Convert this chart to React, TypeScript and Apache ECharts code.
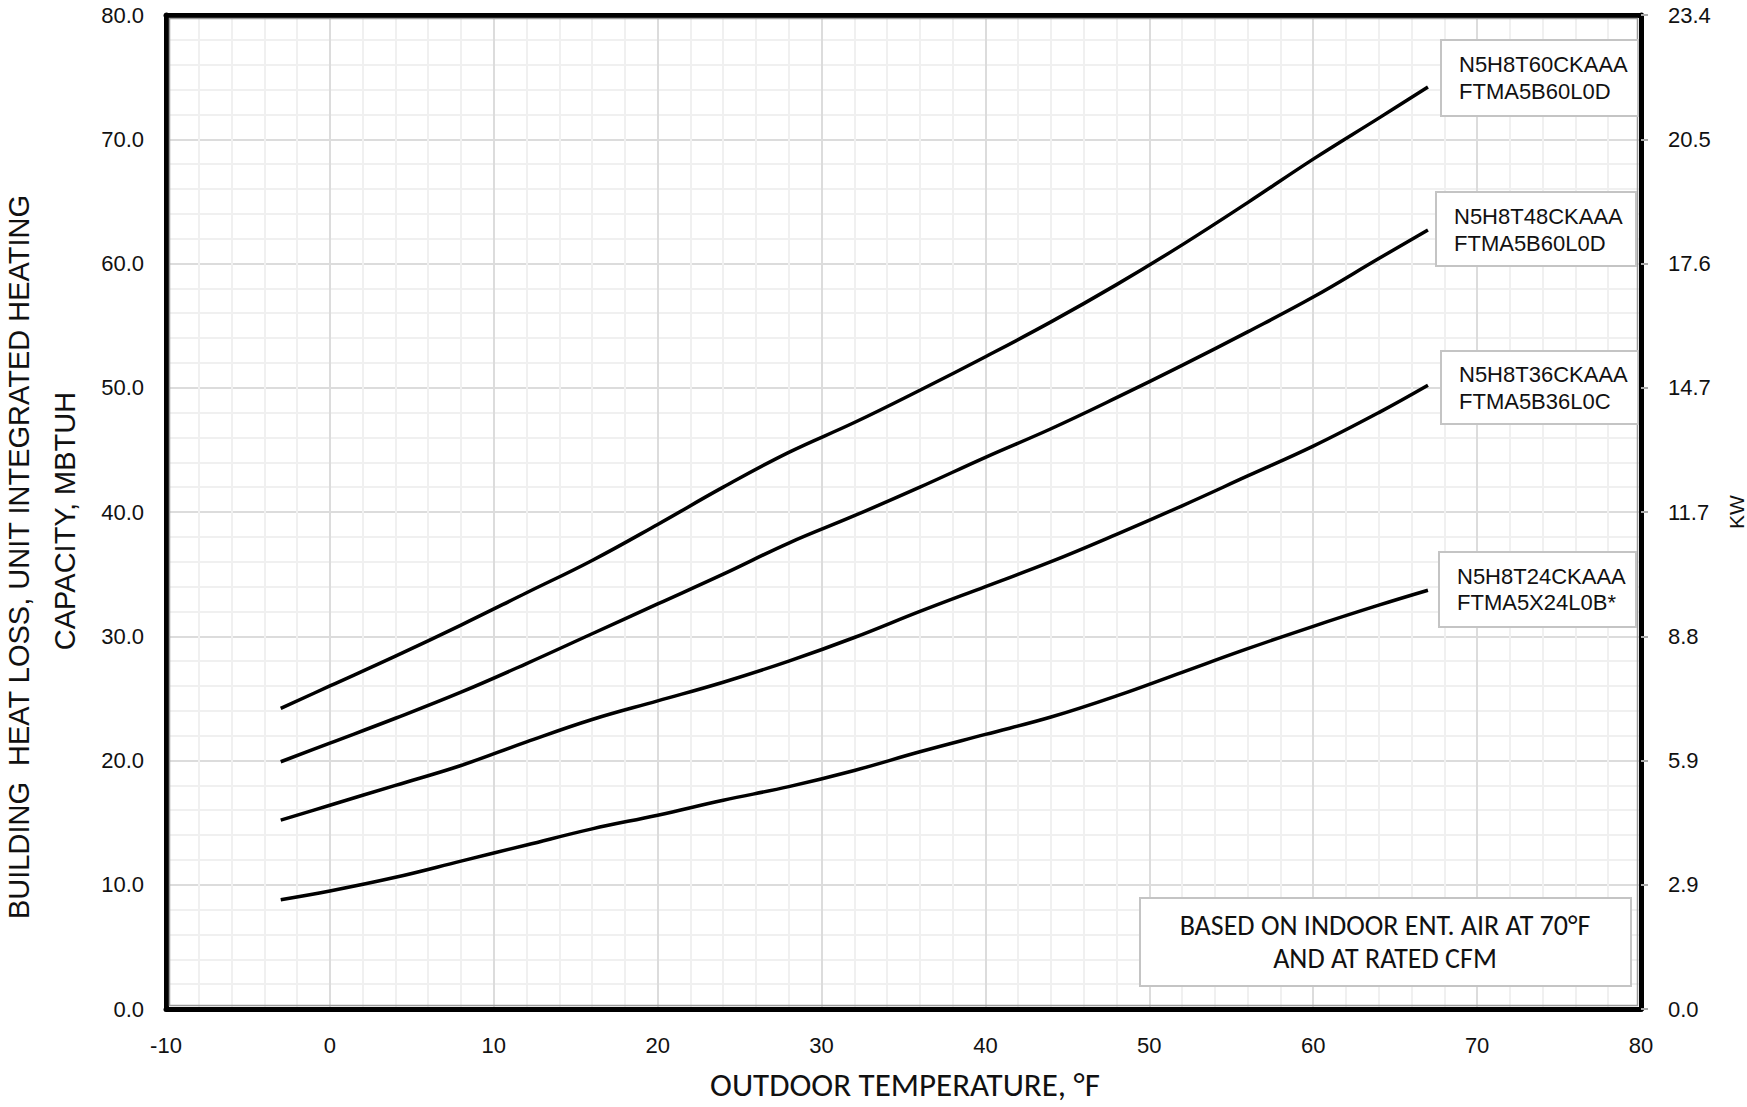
import React, { useEffect, useRef } from "react";
import * as echarts from "echarts";

// Outdoor temperature, °F
const temps = [-3, 0, 4, 8, 12, 16, 20, 24, 28, 32, 36, 40, 44, 48, 52, 56, 60, 64, 67];

// Capacity, MBTUH
const cap60 = [24.2, 26.0, 28.4, 30.9, 33.5, 36.1, 39.0, 42.0, 44.8, 47.2, 49.8, 52.5, 55.3, 58.3, 61.5, 64.9, 68.4, 71.7, 74.2];
const cap48 = [19.9, 21.4, 23.4, 25.5, 27.8, 30.2, 32.6, 35.0, 37.5, 39.7, 42.0, 44.4, 46.7, 49.2, 51.8, 54.5, 57.3, 60.4, 62.7];
const cap36 = [15.2, 16.4, 18.0, 19.6, 21.5, 23.3, 24.8, 26.3, 28.0, 29.9, 32.0, 34.0, 36.0, 38.2, 40.5, 42.9, 45.3, 48.0, 50.2];
const cap24 = [8.8, 9.5, 10.6, 11.9, 13.2, 14.5, 15.6, 16.8, 17.9, 19.2, 20.7, 22.1, 23.5, 25.2, 27.1, 29.0, 30.8, 32.5, 33.7];

const seriesNames = ["N5H8T60CKAAA", "N5H8T48CKAAA", "N5H8T36CKAAA", "N5H8T24CKAAA"];
const seriesData = [cap60, cap48, cap36, cap24];

const labelLine1 = ["N5H8T60CKAAA", "N5H8T48CKAAA", "N5H8T36CKAAA", "N5H8T24CKAAA"];
const labelLine2 = ["FTMA5B60L0D", "FTMA5B60L0D", "FTMA5B36L0C", "FTMA5X24L0B*"];

const noteLines = ["BASED ON INDOOR ENT. AIR AT 70°F", "AND AT RATED CFM"];
const xTitle = "OUTDOOR TEMPERATURE, °F";
const yTitle1 = "BUILDING  HEAT LOSS, UNIT INTEGRATED HEATING";
const yTitle2 = "CAPACITY, MBTUH";
const y2Title = "KW";
const KW_PER_MBTUH = 0.29307107;

const SANS = '"Liberation Sans", Arial, Helvetica, sans-serif';
const NARROW = '"Liberation Sans Narrow", "Arial Narrow", "Liberation Sans", sans-serif';
const CAL = 'Carlito, Lato, "Open Sans", sans-serif';

// label boxes: [x, y, w, h, textX, line1Y, line2Y]
const boxLayout = [
  [1441, 40, 197, 76, 1459, 64, 91],
  [1436, 192, 200, 74, 1454, 216, 243],
  [1441, 351, 197, 73, 1459, 374, 401],
  [1439, 552, 197, 75, 1457, 576, 602],
];

export default function App() {
  const ref = useRef<HTMLDivElement>(null);
  useEffect(() => {
    document.body.style.margin = "0";
    if (!ref.current) return;
    const chart = echarts.init(ref.current, null, { renderer: "svg" });
    const gl = 166, gt = 15, gr = 1641, gb = 1009;

    const graphics: any[] = [];
    boxLayout.forEach((b, i) => {
      graphics.push({
        type: "rect", z: 50,
        shape: { x: b[0], y: b[1], width: b[2], height: b[3] },
        style: { fill: "#fff", stroke: "#c4c4c4", lineWidth: 2 },
      });
      graphics.push({
        type: "text", z: 51, x: b[4], y: b[5],
        style: { text: labelLine1[i], fill: "#111", fontSize: 22, fontFamily: SANS, verticalAlign: "middle", align: "left" },
      });
      graphics.push({
        type: "text", z: 51, x: b[4], y: b[6],
        style: { text: labelLine2[i], fill: "#111", fontSize: 22, fontFamily: SANS, verticalAlign: "middle", align: "left" },
      });
    });
    graphics.push({
      type: "rect", z: 50,
      shape: { x: 1140, y: 898, width: 491, height: 88 },
      style: { fill: "#fff", stroke: "#c4c4c4", lineWidth: 2 },
    });
    graphics.push({
      type: "text", z: 51, x: 1385, y: 925,
      style: { text: noteLines[0], fill: "#111", fontSize: 28, fontFamily: CAL, align: "center", verticalAlign: "middle" },
    });
    graphics.push({
      type: "text", z: 51, x: 1385, y: 958,
      style: { text: noteLines[1], fill: "#111", fontSize: 28, fontFamily: CAL, align: "center", verticalAlign: "middle" },
    });
    graphics.push({
      type: "text", x: 905, y: 1085,
      style: { text: xTitle, fill: "#111", fontSize: 33, fontFamily: CAL, align: "center", verticalAlign: "middle" },
    });
    graphics.push({
      type: "text", x: 19, y: 557, rotation: Math.PI / 2,
      style: { text: yTitle1, fill: "#111", fontSize: 29, fontFamily: NARROW, align: "center", verticalAlign: "middle" },
    });
    graphics.push({
      type: "text", x: 65, y: 521, rotation: Math.PI / 2,
      style: { text: yTitle2, fill: "#111", fontSize: 29, fontFamily: NARROW, align: "center", verticalAlign: "middle" },
    });
    graphics.push({
      type: "text", x: 1736, y: 512, rotation: Math.PI / 2,
      style: { text: y2Title, fill: "#111", fontSize: 21, fontFamily: SANS, align: "center", verticalAlign: "middle" },
    });
    // inner gray frame line
    graphics.push({
      type: "rect", z: 40, silent: true,
      shape: { x: gl + 3.5, y: gt + 3.5, width: gr - gl - 7, height: gb - gt - 7 },
      style: { fill: "none", stroke: "#9a9a9a", lineWidth: 1.5 },
    });

    const axisLabelStyle = { color: "#111", fontSize: 22, fontFamily: SANS };

    chart.setOption({
      animation: false,
      backgroundColor: "#fff",
      grid: { left: gl, top: gt, width: gr - gl, height: gb - gt, containLabel: false, show: false },
      xAxis: [
        {
          type: "value", min: -10, max: 80, interval: 10, position: "bottom",
          axisLine: { show: true, onZero: false, lineStyle: { color: "#000", width: 5 } },
          axisTick: { show: false },
          axisLabel: { ...axisLabelStyle, margin: 25 },
          splitLine: { show: true, lineStyle: { color: "#dcdcdc", width: 2 } },
          minorTick: { show: false, splitNumber: 5 },
          minorSplitLine: { show: true, lineStyle: { color: "#f0f0f0", width: 2 } },
        },
        {
          type: "value", min: -10, max: 80, interval: 10, position: "top",
          axisLine: { show: true, onZero: false, lineStyle: { color: "#000", width: 5 } },
          axisTick: { show: false }, axisLabel: { show: false }, splitLine: { show: false },
        },
      ],
      yAxis: [
        {
          type: "value", min: 0, max: 80, interval: 10, position: "left",
          axisLine: { show: true, onZero: false, lineStyle: { color: "#000", width: 5 } },
          axisTick: { show: false },
          axisLabel: { ...axisLabelStyle, margin: 22, formatter: (v: number) => v.toFixed(1) },
          splitLine: { show: true, lineStyle: { color: "#dcdcdc", width: 2 } },
          minorTick: { show: false, splitNumber: 5 },
          minorSplitLine: { show: true, lineStyle: { color: "#f0f0f0", width: 2 } },
        },
        {
          type: "value", min: 0, max: 80, interval: 10, position: "right",
          axisLine: { show: true, onZero: false, lineStyle: { color: "#000", width: 5 } },
          axisTick: { show: true, length: 7, lineStyle: { color: "#aaa", width: 2 } },
          axisLabel: { ...axisLabelStyle, margin: 27, formatter: (v: number) => (v * KW_PER_MBTUH).toFixed(1) },
          splitLine: { show: false },
        },
      ],
      series: seriesData.map((d, i) => ({
        name: seriesNames[i],
        type: "line",
        xAxisIndex: 0,
        yAxisIndex: 0,
        data: temps.map((t, j) => [t, d[j]]),
        symbol: "none",
        smooth: 0.4,
        lineStyle: { color: "#000", width: 3.5 },
        z: 10,
      })),
      graphic: graphics,
    });
    return () => chart.dispose();
  }, []);
  return <div ref={ref} style={{ width: 1747, height: 1107 }} />;
}
